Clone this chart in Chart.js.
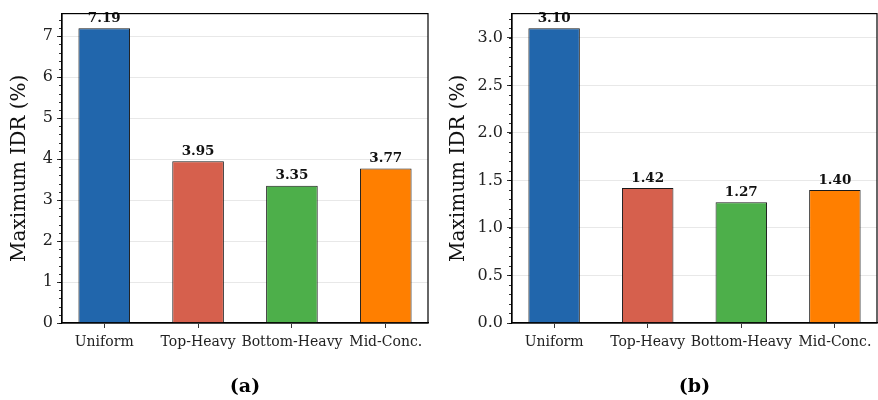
<!DOCTYPE html>
<html>
<head>
<meta charset="utf-8">
<script src="https://cdn.jsdelivr.net/npm/chart.js@4.4.1/dist/chart.umd.min.js"></script>
<style>
  body { margin: 0; background: #fff; }
  #wrap { position: relative; width: 878px; height: 400px; }
  canvas { position: absolute; top: 0; }
  #chartA { left: 0; }
  #chartB { left: 439px; }
</style>
</head>
<body>
<div id="wrap">
  <canvas id="chartA" width="439" height="400"></canvas>
  <canvas id="chartB" width="439" height="400"></canvas>
</div>
<script>
const categories = ["Uniform", "Top-Heavy", "Bottom-Heavy", "Mid-Conc."];
const idrA = [7.19, 3.95, 3.35, 3.77];
const idrB = [3.10, 1.42, 1.27, 1.40];
const barColors = ["#2166ac", "#d6604d", "#4daf4a", "#ff7f00"];

const serif = "'DejaVu Serif', serif";

// cornice, minor tick, etichette valori e sotto-titolo
const extras = {
  id: "extras",
  afterDatasetsDraw(chart, args, opts) {
    const ctx = chart.ctx;
    const meta = chart.getDatasetMeta(0);
    ctx.save();
    ctx.fillStyle = "#111";
    ctx.font = "bold 13.5px " + serif;
    ctx.textAlign = "center";
    ctx.textBaseline = "bottom";
    meta.data.forEach((bar, i) => {
      ctx.fillText(chart.data.datasets[0].data[i].y.toFixed(2), bar.x, bar.y - 3);
    });
    ctx.restore();
  },
  afterDraw(chart, args, opts) {
    const ctx = chart.ctx;
    const area = chart.chartArea;
    const y = chart.scales.y;
    ctx.save();
    ctx.strokeStyle = "#000";
    ctx.lineWidth = 1.2;
    ctx.strokeRect(area.left, area.top, area.right - area.left, area.bottom - area.top);
    // minor ticks
    ctx.lineWidth = 0.8;
    ctx.beginPath();
    const n = Math.floor(y.max / opts.minor + 1e-9);
    for (let k = 0; k <= n; k++) {
      const py = Math.round(y.getPixelForValue(k * opts.minor)) + 0.5;
      ctx.moveTo(area.left - 3, py);
      ctx.lineTo(area.left, py);
    }
    ctx.stroke();
    ctx.fillStyle = "#000";
    ctx.font = "bold 19px " + serif;
    ctx.textAlign = "center";
    ctx.textBaseline = "middle";
    ctx.fillText(opts.label, (area.left + area.right) / 2, 387);
    ctx.restore();
  }
};

function makeChart(id, values, yMax, step, minor, fmt, leftW, rightPad, label) {
  const ctx = document.getElementById(id).getContext("2d");
  const points = values.map((v, i) => ({ x: i, y: v }));
  return new Chart(ctx, {
    type: "bar",
    data: {
      datasets: [{
        data: points,
        backgroundColor: barColors,
        borderColor: "#1a1a1a",
        borderWidth: 1,
        barPercentage: 0.55,
        categoryPercentage: 1.0
      }]
    },
    options: {
      responsive: false,
      animation: false,
      layout: { padding: { top: 12, right: rightPad, left: 0, bottom: 0 } },
      plugins: {
        legend: { display: false },
        tooltip: { enabled: false },
        extras: { minor: minor, label: label }
      },
      scales: {
        x: {
          type: "linear",
          min: -0.45,
          max: categories.length - 0.55,
          offset: false,
          grid: { display: true, offset: false, drawOnChartArea: false, color: "#000", tickLength: 5, tickWidth: 0.8 },
          border: { color: "#000", width: 1.2 },
          ticks: {
            stepSize: 1,
            includeBounds: false,
            color: "#222",
            font: { family: serif, size: 14 },
            padding: 6,
            maxRotation: 0,
            autoSkip: false,
            callback: v => categories[v]
          },
          afterFit(scale) { scale.height = 77; }
        },
        y: {
          min: 0,
          max: yMax,
          grid: { color: "#e8e8e8", lineWidth: 1, tickColor: "#000", tickLength: 5, tickWidth: 0.8 },
          border: { color: "#000", width: 1.2 },
          ticks: {
            stepSize: step,
            includeBounds: false,
            color: "#222",
            font: { family: serif, size: 16 },
            padding: 4,
            callback: fmt
          },
          title: {
            display: true,
            text: "Maximum IDR (%)",
            color: "#111",
            font: { family: serif, size: 20 },
            padding: { top: 8, bottom: 0 }
          },
          afterFit(scale) { scale.width = leftW; }
        }
      }
    },
    plugins: [extras]
  });
}

makeChart("chartA", idrA, 7.55, 1, 0.2, v => v.toFixed(0), 62, 11, "(a)");
makeChart("chartB", idrB, 3.255, 0.5, 0.1, v => v.toFixed(1), 73, 1, "(b)");
</script>
</body>
</html>
